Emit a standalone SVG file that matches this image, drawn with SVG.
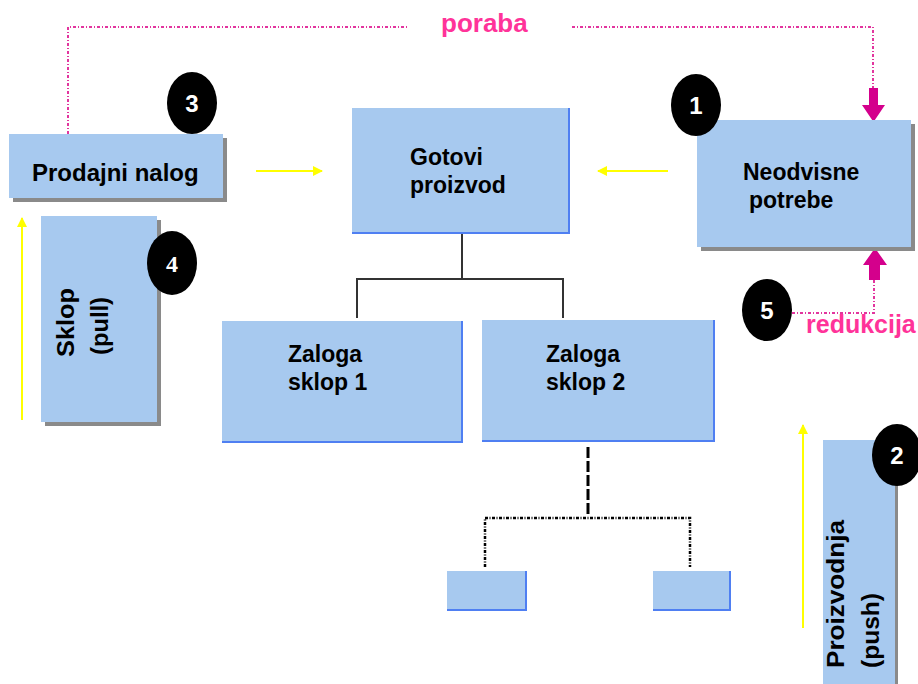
<svg xmlns="http://www.w3.org/2000/svg" width="918" height="684" viewBox="0 0 918 684">
  <defs>
    <style>
      .box { fill: #a7c9ef; }
      .shadow { fill: #8a8a8a; }
      .edge { fill: none; stroke: #4f7ff2; stroke-width: 2; }
      .lbl { font-family: "Liberation Sans", Arial, sans-serif; font-weight: bold; fill: #000; }
      .pink { font-family: "Liberation Sans", Arial, sans-serif; font-weight: bold; fill: #ff3399; }
      .badge { fill: #000; }
      .num { font-family: "Liberation Sans", Arial, sans-serif; font-weight: bold; fill: #fff; font-size: 24px; text-anchor: middle; }
      .tree { fill: none; stroke: #333; stroke-width: 2; }
      .dots { fill: none; stroke: #e2359e; stroke-width: 2; stroke-dasharray: 3 2 1 2; }
      .yellow { fill: none; stroke: #ffff00; stroke-width: 2; }
      .block { fill: #d4008c; }
    </style>
    <marker id="yhead" viewBox="0 0 10 10" refX="9" refY="5" markerWidth="5" markerHeight="5" orient="auto" markerUnits="strokeWidth">
      <path d="M0,0 L10,5 L0,10 Z" fill="#ffff00"/>
    </marker>
  </defs>

  <rect width="918" height="684" fill="#fff"/>

  <!-- connectors -->
  <g id="connectors">
    <!-- consumption loop -->
    <path class="dots" d="M68,134 V27 H408"/>
    <path class="dots" d="M572,27 H873 V90"/>
    <polygon class="block" points="869,88 878,88 878,105 885,105 873.5,122 862,105 869,105"/>
    <!-- reduction loop -->
    <path class="dots" d="M792,313 H874 V280"/>
    <polygon class="block" points="869,280 880,280 880,265 887,265 875,248 863,265 869,265"/>
    <!-- yellow flow arrows -->
    <line class="yellow" x1="256" y1="171" x2="322" y2="171" marker-end="url(#yhead)"/>
    <line class="yellow" x1="668" y1="171" x2="598" y2="171" marker-end="url(#yhead)"/>
    <line class="yellow" x1="22" y1="420" x2="22" y2="218" marker-end="url(#yhead)"/>
    <line class="yellow" x1="803" y1="628" x2="803" y2="425" marker-end="url(#yhead)"/>
    <!-- product structure -->
    <path class="tree" d="M462,233 V279 M357,318 V279 H563 V318"/>
    <line x1="588" y1="447" x2="588" y2="516" stroke="#000" stroke-width="3" stroke-dasharray="11 3"/>
    <path d="M485,567 V518 H690 V567" fill="none" stroke="#000" stroke-width="2.5" stroke-dasharray="3 1.5 1 1.5"/>
  </g>

  <!-- sales order -->
  <g id="prodajni-nalog">
    <rect class="shadow" x="13" y="138" width="214" height="64"/>
    <rect class="box" x="9" y="134" width="214" height="64"/>
    <text class="lbl" x="32" y="181" font-size="24">Prodajni nalog</text>
  </g>

  <!-- finished product -->
  <g id="gotovi-proizvod">
    <rect class="box" x="352" y="108" width="217" height="125"/>
    <path class="edge" d="M569,108 V233 H352"/>
    <text class="lbl" x="410" y="165" font-size="23">Gotovi</text>
    <text class="lbl" x="410" y="193" font-size="23">proizvod</text>
  </g>

  <!-- independent demand -->
  <g id="neodvisne-potrebe">
    <rect class="shadow" x="701" y="124" width="214" height="127"/>
    <rect class="box" x="697" y="120" width="214" height="127"/>
    <text class="lbl" x="743" y="180" font-size="23">Neodvisne</text>
    <text class="lbl" x="749" y="208" font-size="23">potrebe</text>
  </g>

  <!-- assembly (pull) -->
  <g id="sklop-pull">
    <rect class="shadow" x="45" y="220" width="116" height="206"/>
    <rect class="box" x="41" y="216" width="116" height="206"/>
    <text class="lbl" font-size="23" textLength="69" lengthAdjust="spacingAndGlyphs" transform="translate(74,357) rotate(-90)">Sklop</text>
    <text class="lbl" font-size="23" textLength="58" lengthAdjust="spacingAndGlyphs" transform="translate(108,355) rotate(-90)">(pull)</text>
  </g>

  <!-- stock assembly 1 -->
  <g id="zaloga-sklop-1">
    <rect class="box" x="222" y="321" width="240" height="121"/>
    <path class="edge" d="M462,321 V442 H222"/>
    <text class="lbl" x="288" y="362" font-size="23">Zaloga</text>
    <text class="lbl" x="288" y="390" font-size="23">sklop 1</text>
  </g>

  <!-- stock assembly 2 -->
  <g id="zaloga-sklop-2">
    <rect class="box" x="482" y="320" width="232" height="121"/>
    <path class="edge" d="M714,320 V441 H482"/>
    <text class="lbl" x="546" y="362" font-size="23">Zaloga</text>
    <text class="lbl" x="546" y="390" font-size="23">sklop 2</text>
  </g>

  <!-- lower-level components -->
  <g id="komponenta-1">
    <rect class="box" x="447" y="571" width="79" height="39"/>
    <path class="edge" d="M526,571 V610 H447"/>
  </g>
  <g id="komponenta-2">
    <rect class="box" x="653" y="571" width="77" height="39"/>
    <path class="edge" d="M730,571 V610 H653"/>
  </g>

  <!-- production (push) -->
  <g id="proizvodnja-push">
    <rect class="shadow" x="827" y="444" width="71" height="240"/>
    <rect class="box" x="823" y="440" width="72" height="244"/>
    <text class="lbl" font-size="23" textLength="148" lengthAdjust="spacingAndGlyphs" transform="translate(844,668) rotate(-90)">Proizvodnja</text>
    <text class="lbl" font-size="23" textLength="75" lengthAdjust="spacingAndGlyphs" transform="translate(879,668) rotate(-90)">(push)</text>
  </g>

  <!-- loop labels -->
  <g id="oznake">
    <text class="pink" x="441" y="32" font-size="26">poraba</text>
    <text class="pink" x="806" y="333" font-size="25">redukcija</text>
  </g>

  <!-- numbered steps -->
  <g id="korak-1">
    <ellipse class="badge" cx="696" cy="105" rx="25" ry="31"/>
    <text class="num" x="696" y="114">1</text>
  </g>
  <g id="korak-2">
    <ellipse class="badge" cx="897" cy="455" rx="25" ry="31"/>
    <text class="num" x="897" y="464">2</text>
  </g>
  <g id="korak-3">
    <ellipse class="badge" cx="192" cy="103" rx="25" ry="31"/>
    <text class="num" x="192" y="112">3</text>
  </g>
  <g id="korak-4">
    <ellipse class="badge" cx="172" cy="263" rx="25" ry="32"/>
    <text class="num" x="172" y="272" style="font-family: 'Liberation Serif', serif;">4</text>
  </g>
  <g id="korak-5">
    <ellipse class="badge" cx="767" cy="310" rx="25" ry="31"/>
    <text class="num" x="767" y="319">5</text>
  </g>
</svg>
